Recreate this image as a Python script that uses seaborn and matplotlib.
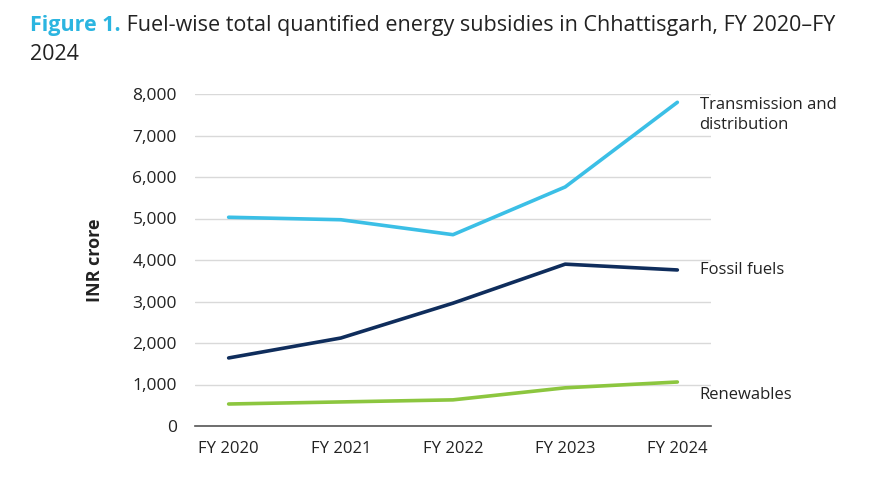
import matplotlib
matplotlib.use("Agg")
import matplotlib.pyplot as plt
import seaborn as sns
import pandas as pd

years = ["FY 2020", "FY 2021", "FY 2022", "FY 2023", "FY 2024"]
td = [5030, 4970, 4610, 5760, 7800]
fossil = [1640, 2120, 2960, 3900, 3760]
renew = [530, 580, 630, 920, 1060]
series_names = ["Transmission and\ndistribution", "Fossil fuels", "Renewables"]
yticks = [0, 1000, 2000, 3000, 4000, 5000, 6000, 7000, 8000]

colors = ["#3BBFE6", "#0F2D5C", "#8CC63F"]

sns.set_theme(style="white")
plt.rcParams["font.family"] = ["Open Sans", "DejaVu Sans"]

df = pd.DataFrame({
    "year": years * 3,
    "value": td + fossil + renew,
    "series": [series_names[0]] * 5 + [series_names[1]] * 5 + [series_names[2]] * 5,
})

fig = plt.figure(figsize=(8.89, 4.8), dpi=100)
ax = fig.add_axes([195/889, 1-426/480, (711-195)/889, (426-94)/480])

sns.lineplot(data=df, x="year", y="value", hue="series", palette=colors,
             linewidth=2.6, ax=ax, legend=False, sort=False)
for l in ax.lines:
    l.set_clip_on(False)
    l.set_solid_capstyle("round")

ax.set_xlim(-0.3, 4.3)
ax.set_ylim(0, 8000)
ax.set_yticks(yticks)
ax.set_yticklabels([f"{v:,}" for v in yticks], fontsize=12.5, color="#222222")
ax.tick_params(axis="x", labelsize=12, colors="#222222", pad=11, length=0)
ax.tick_params(axis="y", pad=13, length=0)
ax.yaxis.grid(True, color="#d9d9d9", linewidth=1)
ax.set_axisbelow(True)
for s in ["top", "right", "left"]:
    ax.spines[s].set_visible(False)
ax.spines["bottom"].set_color("#555555")
ax.spines["bottom"].set_linewidth(1.2)
ax.set_xlabel("")
ax.set_ylabel("INR crore", fontsize=13, fontweight="bold", color="#222222")
ax.yaxis.set_label_coords(-0.176, 0.5)

# end labels
ends = [td[-1], fossil[-1], renew[-1]]
offsets = [-300, 0, -310]
for name, v, off in zip(series_names, ends, offsets):
    ax.annotate(name, xy=(4, v + off), xytext=(16, 0), textcoords="offset points",
                va="center", ha="left", fontsize=12, color="#222222",
                annotation_clip=False, linespacing=1.3)

# title
t1 = fig.text(30/889, 1-25/480, "Figure 1.", fontsize=15.5, color="#2BB5E0",
              fontweight="bold", va="center", ha="left")
fig.canvas.draw()
ax.annotate(" Fuel-wise total quantified energy subsidies in Chhattisgarh, FY 2020\u2013FY",
            xy=(1, 0.5), xycoords=t1, va="center", ha="left", fontsize=15.5, color="#222222")
fig.text(30/889, 1-55/480, "2024", fontsize=15.5, color="#222222", va="center", ha="left")

fig.savefig("out.png", dpi=100)
